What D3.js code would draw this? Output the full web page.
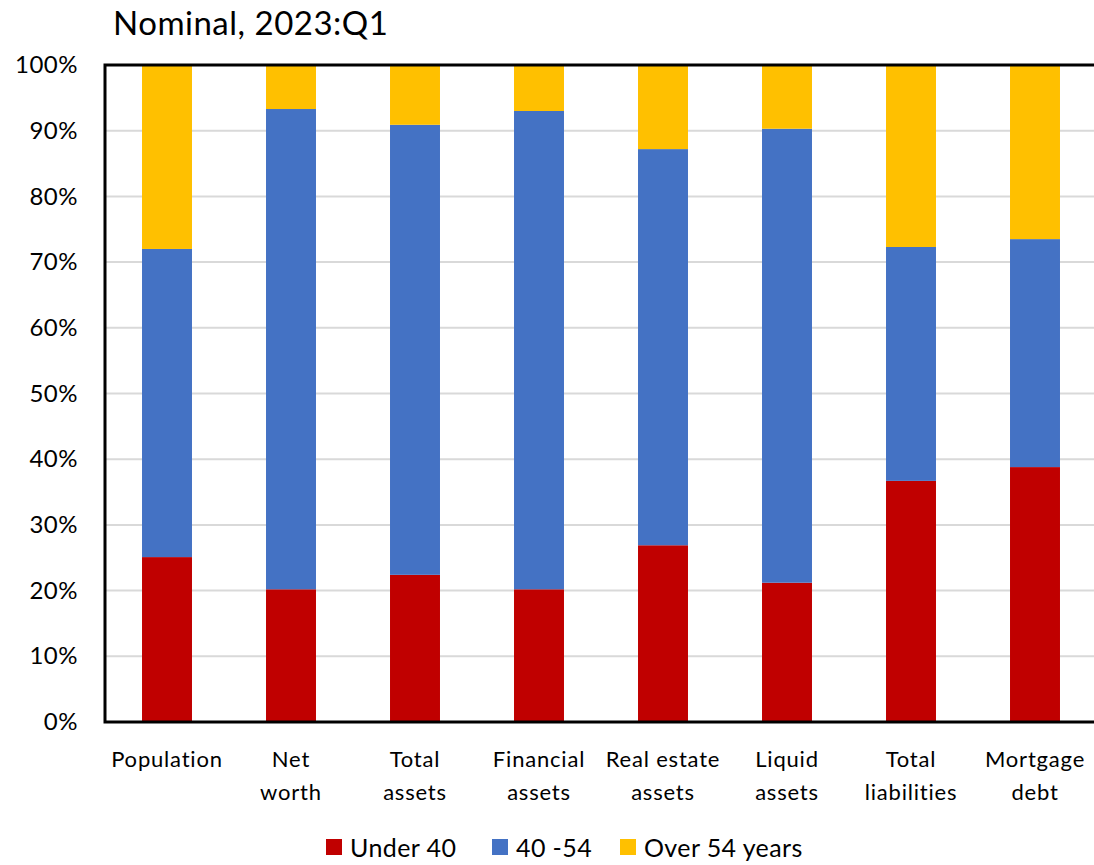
<!DOCTYPE html>
<meta charset="utf-8">
<style>
body { margin: 0; background: #fff; }
text { font-family: Lato, "Open Sans", sans-serif; fill: #000; }
.grid line { stroke: #d9d9d9; stroke-width: 2px; }
</style>
<svg width="1094" height="865"></svg>
<script src="https://d3js.org/d3.v7.min.js"></script>
<script>

var categories = ["Population", "Net worth", "Total assets", "Financial assets",
  "Real estate assets", "Liquid assets", "Total liabilities", "Mortgage debt"];
var labelLines = [["Population"], ["Net", "worth"], ["Total", "assets"], ["Financial", "assets"],
  ["Real estate", "assets"], ["Liquid", "assets"], ["Total", "liabilities"], ["Mortgage", "debt"]];

var under40 = [25.1, 20.2, 22.4, 20.2, 26.9, 21.2, 36.7, 38.8];
var age40to54 = [46.9, 73.1, 68.5, 72.8, 60.3, 69.1, 35.6, 34.7];
var over54 = [28.0, 6.7, 9.1, 7.0, 12.8, 9.7, 27.7, 26.5];

var seriesNames = ["Under 40", "40 -54", "Over 54 years"];
var colors = ["#c00000", "#4472c4", "#ffc000"];
var yTicks = [0, 10, 20, 30, 40, 50, 60, 70, 80, 90, 100];

var svg = d3.select("svg");
var pLeft = 105, pRight = 1097, pTop = 65, pBottom = 722;

var rows = categories.map(function(c, i) {
  return { cat: c, s0: under40[i], s1: age40to54[i], s2: over54[i] };
});
var stack = d3.stack().keys(["s0", "s1", "s2"])(rows);

var x = d3.scaleBand().domain(categories).range([pLeft, pRight]).paddingInner(0.597).paddingOuter(0.2985);
var y = d3.scaleLinear().domain([0, 100]).range([pBottom, pTop]);

// gridlines
svg.append("g").attr("class", "grid")
  .selectAll("line").data(yTicks.filter(function(d) { return d > 0 && d < 100; }))
  .enter().append("line")
    .attr("x1", pLeft).attr("x2", pRight)
    .attr("y1", function(d) { return y(d); })
    .attr("y2", function(d) { return y(d); });

svg.append("g").selectAll("g").data(stack).enter().append("g")
    .attr("fill", function(d, i) { return colors[i]; })
  .selectAll("rect").data(function(d) { return d; })
  .enter().append("rect")
    .attr("x", function(d) { return x(d.data.cat); })
    .attr("width", x.bandwidth())
    .attr("y", function(d) { return y(d[1]); })
    .attr("height", function(d) { return y(d[0]) - y(d[1]); });

// frame
svg.append("path")
  .attr("d", "M" + pRight + "," + pTop + "H" + pLeft + "V" + pBottom + "H" + pRight)
  .attr("fill", "none").attr("stroke", "#000").attr("stroke-width", 3);

// y axis labels
var yAxis = d3.axisLeft(y).tickValues(yTicks).tickSize(0).tickPadding(27)
  .tickFormat(function(d) { return d + "%"; });
var ya = svg.append("g").attr("transform", "translate(" + pLeft + ",0)").call(yAxis);
ya.select(".domain").remove();
ya.selectAll("text").style("font-size", "24px").style("letter-spacing", "0.5px")
  .style("font-family", "Lato, sans-serif");

// category labels
var cl = svg.append("g").selectAll("text").data(categories).enter().append("text")
  .attr("text-anchor", "middle")
  .attr("x", function(d) { return x(d) + x.bandwidth() / 2; })
  .attr("y", 767)
  .style("font-size", "22px")
  .style("letter-spacing", "0.8px");
cl.selectAll("tspan").data(function(d, i) { return labelLines[i]; })
  .enter().append("tspan")
    .attr("x", function() { return d3.select(this.parentNode).attr("x"); })
    .attr("dy", function(d, i) { return i === 0 ? 0 : 33; })
    .text(function(d) { return d; });

// title
svg.append("text").attr("x", 113).attr("y", 35).style("font-size", "33px")
  .style("letter-spacing", "0.5px").text("Nominal, 2023:Q1");

// legend
var legendX = [326, 492, 620];
var lg = svg.append("g").selectAll("g").data(seriesNames).enter().append("g")
  .attr("transform", function(d, i) { return "translate(" + legendX[i] + ",840)"; });
lg.append("rect").attr("width", 16).attr("height", 16).attr("y", -1)
  .attr("fill", function(d, i) { return colors[i]; });
lg.append("text").attr("x", 24).attr("y", 17).style("font-size", "25px")
  .style("letter-spacing", "0.4px").text(function(d) { return d; });

</script>
